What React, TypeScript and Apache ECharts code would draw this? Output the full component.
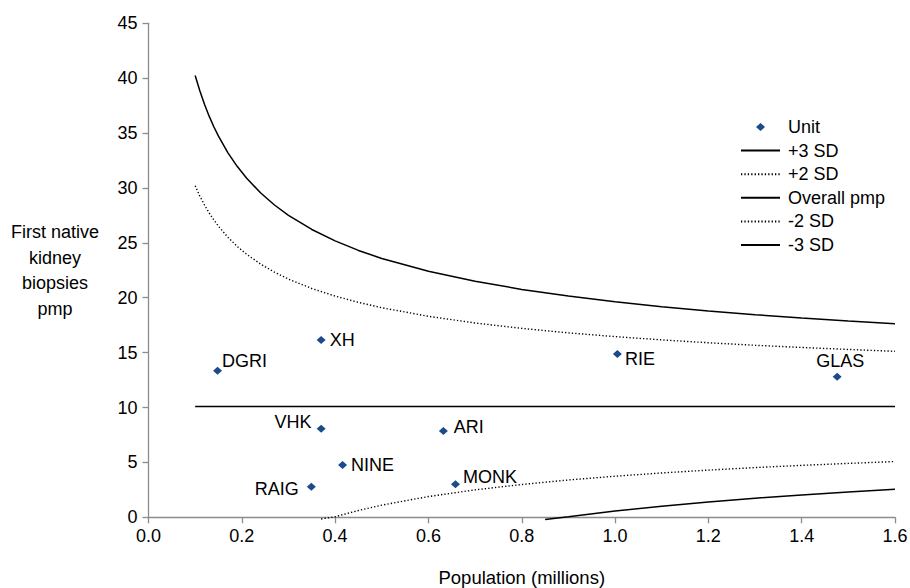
import React, { useEffect, useRef } from "react";
import * as echarts from "echarts";

// ---- data ----
const unitNames = ["DGRI", "XH", "VHK", "RIE", "GLAS", "ARI", "NINE", "RAIG", "MONK"];
const unitPopulation = [0.148, 0.37, 0.37, 1.005, 1.476, 0.632, 0.416, 0.349, 0.658];
const unitRate = [13.35, 16.15, 8.07, 14.87, 12.8, 7.86, 4.76, 2.79, 3.0];

const limitX = [0.1, 0.11, 0.12, 0.13, 0.14, 0.15, 0.17, 0.19, 0.21, 0.24, 0.27, 0.3, 0.35, 0.4, 0.45, 0.5, 0.6, 0.7, 0.8, 0.9, 1.0, 1.1, 1.2, 1.3, 1.4, 1.5, 1.6];
const plus3SD = [40.25, 38.85, 37.62, 36.54, 35.58, 34.72, 33.22, 31.97, 30.91, 29.56, 28.45, 27.51, 26.22, 25.18, 24.31, 23.58, 22.41, 21.5, 20.76, 20.15, 19.63, 19.19, 18.8, 18.46, 18.16, 17.89, 17.64];
const plus2SD = [30.2, 29.26, 28.45, 27.73, 27.09, 26.51, 25.52, 24.68, 23.97, 23.07, 22.33, 21.7, 20.84, 20.15, 19.58, 19.09, 18.31, 17.7, 17.21, 16.8, 16.46, 16.16, 15.9, 15.67, 15.47, 15.29, 15.12];

const overallX = [0.1, 1.6];
const overallY = [10.1, 10.1];

const minus2X = [0.37, 0.4, 0.45, 0.5, 0.6, 0.7, 0.8, 0.9, 1.0, 1.1, 1.2, 1.3, 1.4, 1.5, 1.6];
const minus2SD = [-0.15, 0.05, 0.62, 1.11, 1.89, 2.5, 2.99, 3.4, 3.74, 4.04, 4.3, 4.53, 4.73, 4.91, 5.08];

const minus3X = [0.85, 0.9, 1.0, 1.1, 1.2, 1.3, 1.4, 1.5, 1.6];
const minus3SD = [-0.2, 0.05, 0.57, 1.01, 1.4, 1.74, 2.04, 2.31, 2.56];

const legendNames = ["Unit", "+3 SD", "+2 SD", "Overall pmp", "-2 SD", "-3 SD"];

const FONT = "'Liberation Sans', Arial, Helvetica, sans-serif";
const TEXT = "#000";

const labelPlacement: Record<string, any> = {
  DGRI: { position: "right", distance: 0, offset: [0, -10] },
  XH: { position: "right", distance: 4, offset: [0, 0] },
  VHK: { position: "left", distance: 5, offset: [0, -7] },
  RIE: { position: "right", distance: 3, offset: [0, 5] },
  GLAS: { position: "top", distance: 3, offset: [3, 0] },
  ARI: { position: "right", distance: 6, offset: [0, -4] },
  NINE: { position: "right", distance: 4, offset: [0, 0] },
  RAIG: { position: "left", distance: 8, offset: [0, 2] },
  MONK: { position: "right", distance: 3, offset: [0, -7] },
};

const zip = (xs: number[], ys: number[]) => xs.map((x, i) => [x, ys[i]]);

export default function App() {
  const ref = useRef<HTMLDivElement>(null);
  useEffect(() => {
    if (!ref.current) return;
    const chart = echarts.init(ref.current, null, { renderer: "svg" });
    const solid = { color: "#000", width: 1.5, type: "solid" as const };
    const dotted = { color: "#000", width: 1.4, type: [1.3, 2.1] as any };
    chart.setOption({
      animation: false,
      backgroundColor: "#fff",
      textStyle: { fontFamily: FONT },
      grid: { left: 148.5, top: 23.3, right: 15, bottom: 70.7, containLabel: false, outerBoundsMode: "none" },
      legend: {
        orient: "vertical",
        left: 735,
        top: 113,
        itemWidth: 39,
        itemHeight: 8,
        itemGap: 5.6,
        textStyle: { fontSize: 18, color: TEXT, fontFamily: FONT, lineHeight: 18, padding: [0, 0, 0, 3] },
        data: legendNames.map((n) =>
          n === "Unit"
            ? { name: n, icon: "path://M4.5,0 L9,4 L4.5,8 L0,4 Z" }
            : { name: n, itemStyle: { opacity: 0 } }
        ),
      },
      xAxis: {
        type: "value",
        min: 0,
        max: 1.6,
        interval: 0.2,
        name: "Population (millions)",
        nameLocation: "middle",
        nameGap: 60,
        nameTextStyle: { fontSize: 18.5, color: TEXT, fontFamily: FONT, verticalAlign: "middle" },
        axisLine: { lineStyle: { color: "#8c8c8c", width: 1.3 } },
        axisTick: { show: true, length: 6, lineStyle: { color: "#8c8c8c", width: 1.3 } },
        axisLabel: { fontSize: 18, color: TEXT, margin: 10, fontFamily: FONT, formatter: (v: number) => v.toFixed(1) },
        splitLine: { show: false },
      },
      yAxis: {
        type: "value",
        min: 0,
        max: 45,
        interval: 5,
        name: "First native\nkidney\nbiopsies\npmp",
        nameLocation: "middle",
        nameRotate: 0,
        nameGap: 93.5,
        nameTextStyle: { fontSize: 18, color: TEXT, fontFamily: FONT, align: "center", verticalAlign: "middle", lineHeight: 25.5 },
        axisLine: { show: true, lineStyle: { color: "#8c8c8c", width: 1.3 } },
        axisTick: { show: true, length: 6, lineStyle: { color: "#8c8c8c", width: 1.3 } },
        axisLabel: { fontSize: 18, color: TEXT, margin: 11, fontFamily: FONT },
        splitLine: { show: false },
      },
      series: [
        {
          name: "Unit",
          type: "scatter",
          symbol: "diamond",
          symbolSize: [9, 8],
          itemStyle: { color: "#1B4B8A", opacity: 1 },
          label: { show: true, formatter: "{b}", fontSize: 18, color: TEXT, fontFamily: FONT },
          data: unitNames.map((n, i) => ({
            name: n,
            value: [unitPopulation[i], unitRate[i]],
            label: labelPlacement[n],
          })),
          z: 5,
        },
        { name: "+3 SD", type: "line", symbol: "none", clip: false, color: "#000", lineStyle: solid, data: zip(limitX, plus3SD) },
        { name: "+2 SD", type: "line", symbol: "none", clip: false, color: "#000", lineStyle: dotted, data: zip(limitX, plus2SD) },
        { name: "Overall pmp", type: "line", symbol: "none", clip: false, color: "#000", lineStyle: solid, data: zip(overallX, overallY) },
        { name: "-2 SD", type: "line", symbol: "none", clip: false, color: "#000", lineStyle: dotted, data: zip(minus2X, minus2SD) },
        { name: "-3 SD", type: "line", symbol: "none", clip: false, color: "#000", lineStyle: solid, data: zip(minus3X, minus3SD) },
      ],
    });
    return () => chart.dispose();
  }, []);
  return <div ref={ref} style={{ position: "fixed", left: 0, top: 0, width: 910, height: 588 }} />;
}
